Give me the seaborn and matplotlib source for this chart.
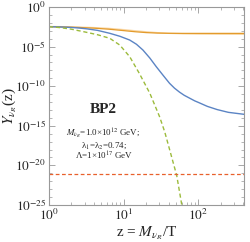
import numpy as np
import pandas as pd
import matplotlib
matplotlib.use("Agg")
import matplotlib.pyplot as plt
import matplotlib.ticker as mticker
import seaborn as sns

sns.set_theme(style="ticks")
plt.rcParams['font.family'] = ['Liberation Serif', 'DejaVu Serif']
plt.rcParams['mathtext.fontset'] = 'stix'

# values: log10(z) and log10(Y)
lz_orange = [0, 0.2, 0.4, 0.6, 0.8, 1.0, 1.15, 1.3, 1.45, 1.6, 1.8, 2.0, 2.3, 2.61]
ly_orange = [-2.48, -2.52, -2.58, -2.67, -2.8, -2.98, -3.12, -3.23, -3.29, -3.32, -3.33, -3.33, -3.33, -3.33]
lz_orange2 = [0, 0.2, 0.4, 0.6, 0.8, 1.0, 1.15, 1.3, 1.45, 1.6, 1.8, 2.0, 2.3, 2.61]
ly_orange2 = [-2.46, -2.49, -2.54, -2.6, -2.7, -2.86, -3.0, -3.13, -3.24, -3.32, -3.38, -3.41, -3.43, -3.44]
lz_blue = [0, 0.15, 0.3, 0.4, 0.5, 0.65, 0.813, 0.95, 1.08, 1.17, 1.257, 1.35, 1.436, 1.525,
           1.613, 1.68, 1.747, 1.81, 1.88, 1.95, 2.0, 2.12, 2.25, 2.4, 2.61]
ly_blue = [-2.48, -2.52, -2.58, -2.65, -2.75, -2.95, -3.32, -3.7, -4.17, -4.7, -5.43, -6.45, -7.54,
           -8.6, -9.63, -10.25, -10.75, -11.15, -11.5, -11.85, -12.05, -12.55, -12.95, -13.3, -13.55]
lz_green = [0, 0.15, 0.3, 0.48, 0.65, 0.813, 0.947, 1.08, 1.21, 1.35, 1.48, 1.55, 1.62, 1.71, 1.77, 1.8]
ly_green = [-2.48, -2.6, -2.8, -3.15, -3.5, -3.95, -4.8, -6.27, -8.4, -10.9, -13.85, -15.8, -18.2,
            -21.3, -24.6, -26.3]
lz_red = [0, 2.61]
ly_red = [-21.1, -21.1]

fig = plt.figure(figsize=(2.5, 2.42), dpi=100)
ax = fig.add_axes([0.196, 0.153, 0.78, 0.818])

def draw(lz, ly, **kw):
    sns.lineplot(x=10.0 ** np.array(lz), y=10.0 ** np.array(ly), ax=ax, **kw)

draw(lz_orange2, ly_orange2, color='#f9d6a3', lw=1.0)
draw(lz_orange, ly_orange, color='#e39b2c', lw=0.9)
draw(lz_blue, ly_blue, color='#5b84c4', lw=1.0)
draw(lz_green, ly_green, color='#9cbb3c', lw=1.0, linestyle=(0, (3, 2)))
draw(lz_red, ly_red, color='#e8602c', lw=0.9, linestyle=(0, (3, 2)))

ax.set_xscale('log')
ax.set_yscale('log')
ax.set_xlim(1, 10 ** 2.61)
ax.set_ylim(1e-25, 1)

fmt = mticker.FuncFormatter(lambda v, p: r'$10^{%d}$' % round(np.log10(v)))
ax.yaxis.set_major_locator(mticker.FixedLocator([10.0 ** k for k in range(-25, 1, 5)]))
ax.yaxis.set_minor_locator(mticker.FixedLocator([10.0 ** k for k in range(-25, 1)]))
ax.yaxis.set_major_formatter(fmt)
ax.yaxis.set_minor_formatter(mticker.NullFormatter())
ax.xaxis.set_major_locator(mticker.LogLocator(base=10))
ax.xaxis.set_minor_locator(mticker.LogLocator(base=10, subs=np.arange(2, 10)))
ax.xaxis.set_major_formatter(fmt)
ax.xaxis.set_minor_formatter(mticker.NullFormatter())

ax.tick_params(which='both', direction='in', top=True, right=True, color='#999999',
               labelsize=9.5, pad=2)
ax.tick_params(which='major', length=4, width=0.6)
ax.tick_params(which='minor', length=2, width=0.5)
for s in ax.spines.values():
    s.set_color('#999999')
    s.set_linewidth(0.8)

ax.set_xlabel(r'z = $M_{\nu_R}$/T', fontsize=11, labelpad=1)
ax.set_ylabel(r'$Y_{\nu_R}$(z)', fontsize=11, labelpad=0)
ax.yaxis.set_label_coords(-0.155, 0.5)

ax.text(0.28, 0.48, 'BP2', transform=ax.transAxes, ha='center', va='center',
        fontsize=11, fontweight='bold')
ax.text(0.28, 0.359, r'$M_{\nu_R}$=1.0×10$^{12}$ GeV;', transform=ax.transAxes,
        ha='center', va='center', fontsize=6.5)
ax.text(0.28, 0.298, r'λ$_1$=λ$_2$=0.74;', transform=ax.transAxes,
        ha='center', va='center', fontsize=6.5)
ax.text(0.28, 0.247, r'Λ=1×10$^{17}$ GeV', transform=ax.transAxes,
        ha='center', va='center', fontsize=6.5)

fig.savefig('out.png', dpi=100)
